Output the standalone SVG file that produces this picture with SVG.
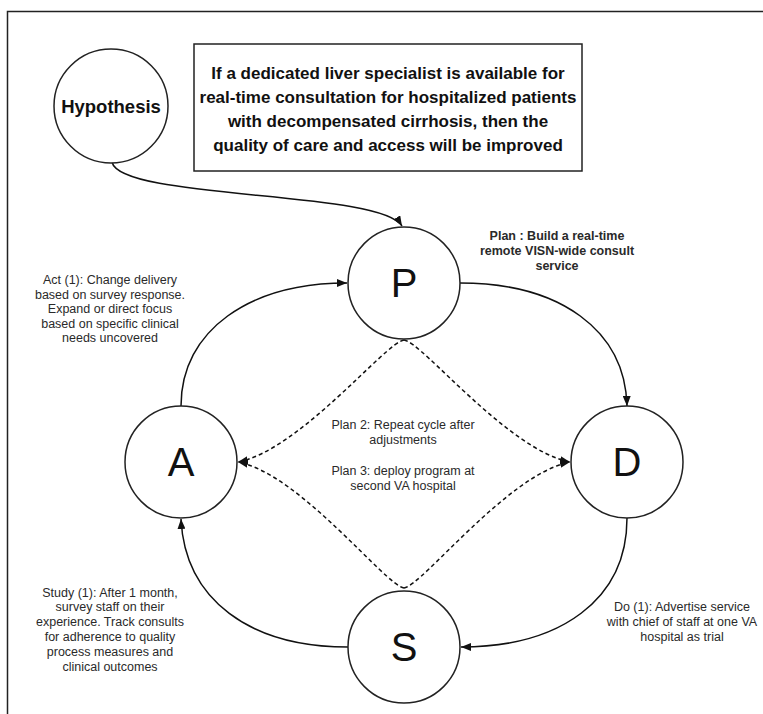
<svg xmlns="http://www.w3.org/2000/svg" width="763" height="714" viewBox="0 0 763 714">
<style>
.node{fill:#fff;stroke:#222;stroke-width:1.5}
.edge{fill:none;stroke:#111;stroke-width:1.5}
.dash{stroke-dasharray:4 3}
.letter{font-family:"Liberation Sans",Arial,sans-serif;font-size:40px;fill:#111;text-anchor:middle}
.lbl{font-family:"Liberation Sans",Arial,sans-serif;font-size:12.5px;fill:#2a2a2a;text-anchor:middle}
.b{font-weight:bold}
.hyp{font-family:"Liberation Sans",Arial,sans-serif;font-size:17px;font-weight:bold;fill:#111;text-anchor:middle}
</style>
<defs>
<marker id="arr" viewBox="0 0 10 8" refX="10" refY="4" markerWidth="10" markerHeight="8" markerUnits="userSpaceOnUse" orient="auto">
<path d="M0,0 L10,4 L0,8 Z" fill="#111"/>
</marker>
</defs>
<rect x="0" y="0" width="763" height="714" fill="#fff"/>
<rect x="7.5" y="11.5" width="770" height="720" fill="none" stroke="#222" stroke-width="1.5"/>

<g id="connectors">
<path class="edge" d="M112,162 C120,200 380,190 402,226" marker-end="url(#arr)"/>
<path class="edge" d="M460,283 C560,283 625,330 627,406" marker-end="url(#arr)"/>
<path class="edge" d="M627,518 C627,600 560,647 461,647" marker-end="url(#arr)"/>
<path class="edge" d="M348,647 C250,647 185,600 181,519" marker-end="url(#arr)"/>
<path class="edge" d="M181,406 C181,330 250,283 347,283" marker-end="url(#arr)"/>
<path class="edge dash" d="M404,340 C386,342 300,450 238,462" marker-end="url(#arr)"/>
<path class="edge dash" d="M404,340 C422,342 508,450 570,462" marker-end="url(#arr)"/>
<path class="edge dash" d="M404,588 C386,586 300,474 238,462" marker-end="url(#arr)"/>
<path class="edge dash" d="M404,588 C422,586 508,474 570,462" marker-end="url(#arr)"/>
</g>

<g id="hypothesis">
<circle class="node" cx="111" cy="106" r="57"/>
<text class="hyp" x="111" y="113" style="font-size:18.5px">Hypothesis</text>
</g>

<g id="hypothesis-statement">
<rect class="node" x="194" y="44" width="388" height="127"/>
<text class="hyp" x="388" y="79">If a dedicated liver specialist is available for</text>
<text class="hyp" x="388" y="103">real-time consultation for hospitalized patients</text>
<text class="hyp" x="388" y="127">with decompensated cirrhosis, then the</text>
<text class="hyp" x="388" y="151">quality of care and access will be improved</text>
</g>

<g id="P">
<circle class="node" cx="404" cy="283" r="56"/>
<text class="letter" x="404" y="297">P</text>
</g>
<g id="A">
<circle class="node" cx="181" cy="462" r="56"/>
<text class="letter" x="181" y="476">A</text>
</g>
<g id="D">
<circle class="node" cx="627" cy="462" r="56"/>
<text class="letter" x="627" y="476">D</text>
</g>
<g id="S">
<circle class="node" cx="404" cy="647" r="56"/>
<text class="letter" x="404" y="661">S</text>
</g>

<g id="plan-label">
<text class="lbl b" x="557" y="240">Plan : Build a real-time</text>
<text class="lbl b" x="557" y="255">remote VISN-wide consult</text>
<text class="lbl b" x="557" y="270">service</text>
</g>
<g id="act-label">
<text class="lbl" x="110" y="284">Act (1): Change delivery</text>
<text class="lbl" x="110" y="299">based on survey response.</text>
<text class="lbl" x="110" y="313">Expand or direct focus</text>
<text class="lbl" x="110" y="328">based on specific clinical</text>
<text class="lbl" x="110" y="342">needs uncovered</text>
</g>
<g id="center-label">
<text class="lbl" x="403" y="429">Plan 2: Repeat cycle after</text>
<text class="lbl" x="403" y="444">adjustments</text>
<text class="lbl" x="403" y="475">Plan 3: deploy program at</text>
<text class="lbl" x="403" y="490">second VA hospital</text>
</g>
<g id="study-label">
<text class="lbl" x="110" y="597">Study (1): After 1 month,</text>
<text class="lbl" x="110" y="611">survey staff on their</text>
<text class="lbl" x="110" y="626">experience. Track consults</text>
<text class="lbl" x="110" y="641">for adherence to quality</text>
<text class="lbl" x="110" y="656">process measures and</text>
<text class="lbl" x="110" y="671">clinical outcomes</text>
</g>
<g id="do-label">
<text class="lbl" x="682" y="611">Do (1): Advertise service</text>
<text class="lbl" x="682" y="626">with chief of staff at one VA</text>
<text class="lbl" x="682" y="641">hospital as trial</text>
</g>
</svg>
